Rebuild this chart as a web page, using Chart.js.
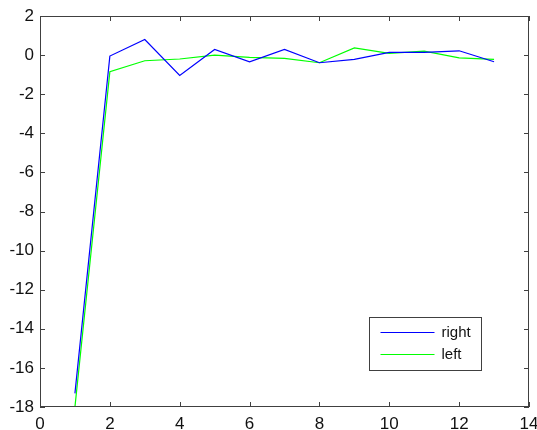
<!DOCTYPE html>
<html>
<head>
<meta charset="utf-8">
<script src="https://cdn.jsdelivr.net/npm/chart.js@4"></script>
<style>
  html, body { margin: 0; padding: 0; background: #fff; }
  #wrap { width: 537px; height: 430px; }
</style>
</head>
<body>
<div id="wrap"><canvas id="c" width="537" height="430"></canvas></div>
<script>
const xValues = [1, 2, 3, 4, 5, 6, 7, 8, 9, 10, 11, 12, 13];
const rightValues = [-17.3, -0.05, 0.8, -1.04, 0.29, -0.34, 0.29, -0.39, -0.22, 0.14, 0.14, 0.22, -0.34];
const leftValues = [-18, -0.85, -0.29, -0.2, 0, -0.12, -0.17, -0.39, 0.37, 0.09, 0.2, -0.14, -0.22];
const seriesNames = ["right", "left"];
const seriesColors = ["#0000ff", "#00ff00"];
const xTicks = [0, 2, 4, 6, 8, 10, 12, 14];
const yTicks = [2, 0, -2, -4, -6, -8, -10, -12, -14, -16, -18];

const toPoints = (ys) => ys.map((y, i) => ({ x: xValues[i], y }));
const font = { family: "Liberation Sans, Arial, sans-serif", size: 17 };
const axisColor = "#404040";

// box around the axes + inward ticks on all four sides, matlab style
const boxTicks = {
  id: "boxTicks",
  afterDraw(chart) {
    const { ctx, chartArea: a, scales } = chart;
    ctx.save();
    ctx.strokeStyle = axisColor;
    ctx.lineWidth = 1;
    ctx.strokeRect(a.left + 0.5, a.top + 0.5, a.right - a.left - 1, a.bottom - a.top - 1);
    ctx.beginPath();
    xTicks.forEach((t) => {
      const px = Math.round(scales.x.getPixelForValue(t)) + 0.5;
      ctx.moveTo(px, a.bottom); ctx.lineTo(px, a.bottom - 5);
      ctx.moveTo(px, a.top); ctx.lineTo(px, a.top + 5);
    });
    yTicks.forEach((t) => {
      const py = Math.round(scales.y.getPixelForValue(t)) + 0.5;
      ctx.moveTo(a.left, py); ctx.lineTo(a.left + 5, py);
      ctx.moveTo(a.right, py); ctx.lineTo(a.right - 5, py);
    });
    ctx.stroke();
    ctx.restore();
  }
};

// legend box inside the plot, lower right
const innerLegend = {
  id: "innerLegend",
  afterDraw(chart) {
    const { ctx } = chart;
    const x0 = 369.5, y0 = 317.5, w = 112, h = 53;
    ctx.save();
    ctx.fillStyle = "#fff";
    ctx.fillRect(x0, y0, w, h);
    ctx.strokeStyle = axisColor;
    ctx.lineWidth = 1;
    ctx.strokeRect(x0, y0, w, h);
    ctx.font = `15px ${font.family}`;
    ctx.textBaseline = "middle";
    seriesNames.forEach((name, i) => {
      const yy = Math.round(y0 + 14 + i * 22) + 0.5;
      ctx.strokeStyle = seriesColors[i];
      ctx.lineWidth = 1.2;
      ctx.beginPath();
      ctx.moveTo(x0 + 11, yy);
      ctx.lineTo(x0 + 65, yy);
      ctx.stroke();
      ctx.fillStyle = "#111";
      ctx.fillText(name, x0 + 72, yy);
    });
    ctx.restore();
  }
};

new Chart(document.getElementById("c"), {
  type: "line",
  data: {
    datasets: [
      { label: seriesNames[0], data: toPoints(rightValues), borderColor: seriesColors[0], borderWidth: 1.2, pointRadius: 0, tension: 0 },
      { label: seriesNames[1], data: toPoints(leftValues), borderColor: seriesColors[1], borderWidth: 1.2, pointRadius: 0, tension: 0 }
    ]
  },
  options: {
    responsive: false,
    animation: false,
    layout: { padding: { top: 16, right: 0, left: 0, bottom: 0 } },
    plugins: { legend: { display: false }, tooltip: { enabled: false } },
    scales: {
      x: {
        type: "linear", min: 0, max: 14,
        afterBuildTicks: (s) => { s.ticks = xTicks.map((v) => ({ value: v })); },
        afterFit: (s) => { s.height = 23; s.paddingLeft = 0; s.paddingRight = 8; },
        grid: { display: false, drawTicks: false },
        border: { display: false },
        ticks: { color: "#111", font, padding: 7, maxRotation: 0 }
      },
      y: {
        type: "linear", min: -18, max: 2,
        afterBuildTicks: (s) => { s.ticks = yTicks.map((v) => ({ value: v })); },
        afterFit: (s) => { s.width = 40; s.paddingTop = 0; s.paddingBottom = 0; },
        grid: { display: false, drawTicks: false },
        border: { display: false },
        ticks: { color: "#111", font, padding: 6 }
      }
    }
  },
  plugins: [boxTicks, innerLegend]
});
</script>
</body>
</html>
